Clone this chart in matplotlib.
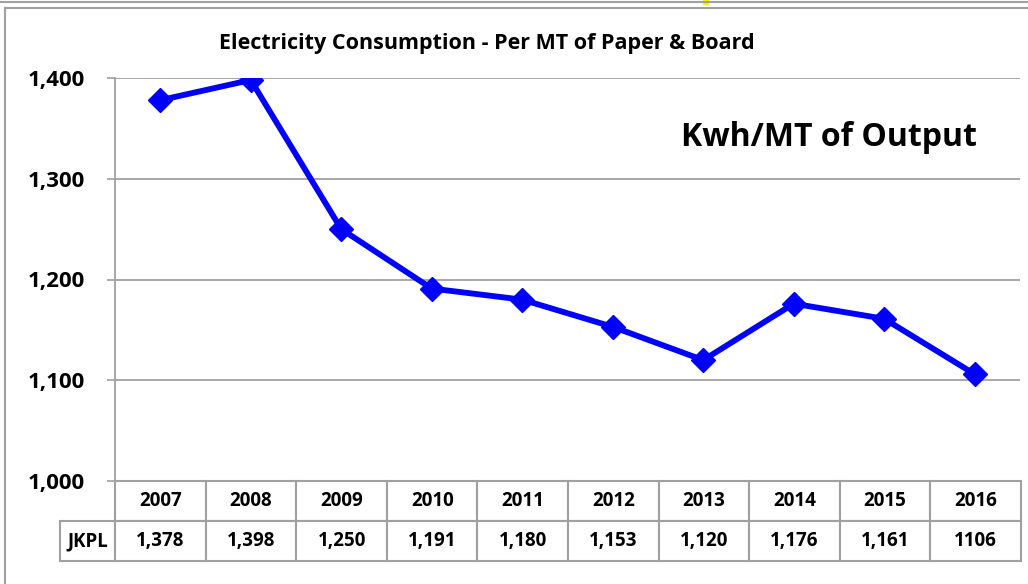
import matplotlib
matplotlib.use("Agg")
import matplotlib.pyplot as plt
from matplotlib.lines import Line2D
from matplotlib.patches import Rectangle

years = ["2007", "2008", "2009", "2010", "2011", "2012", "2013", "2014", "2015", "2016"]
jkpl = [1378, 1398, 1250, 1191, 1180, 1153, 1120, 1176, 1161, 1106]
# the last cell is written without a comma in the original
jkpl_text = ["1,378", "1,398", "1,250", "1,191", "1,180", "1,153", "1,120", "1,176", "1,161", "1106"]
yticks = [1000, 1100, 1200, 1300, 1400]

plt.rcParams['font.family'] = ['Open Sans', 'DejaVu Sans']
plt.rcParams['font.weight'] = 'bold'

W, H = 1028, 584
fig = plt.figure(figsize=(W / 100, H / 100), dpi=100)

# axes from pixel coords
x0, x1, ytop, ybot = 115, 1020, 78, 481
aw, ah = x1 - x0, ybot - ytop
ax = fig.add_axes([x0 / W, 1 - ybot / H, aw / W, ah / H])

grey = "#a0a0a0"
x = list(range(len(years)))
ax.plot(x, jkpl, color="#0000ff", lw=4.2, marker="D", markersize=12, zorder=3)
ax.set_xlim(-0.5, len(years) - 0.5)
ax.set_ylim(1000, 1400)
ax.set_yticks(yticks)
ax.set_yticklabels([f"{v:,}" for v in yticks], fontsize=16, fontweight="bold")
ax.tick_params(axis="y", length=6, width=1.2, color=grey, pad=16)
ax.set_xticks([])
ax.grid(axis="y", color=grey, lw=1.3)
for s in ["top", "right", "bottom"]:
    ax.spines[s].set_visible(False)
ax.spines["left"].set_color(grey)
ax.spines["left"].set_linewidth(1.3)
ax.axhline(1000, color=grey, lw=1.3)

# data table under the plot (bbox covers the year columns, the row label hangs left)
tbl = ax.table(cellText=[jkpl_text], colLabels=years, rowLabels=["JKPL"],
               colWidths=[0.1] * len(years),
               cellLoc="center", rowLoc="center",
               bbox=[0, -80 / ah, (1021 - x0) / aw, 80 / ah])
tbl._autoColumns = []
tbl.auto_set_font_size(False)
for (r, c), cell in tbl.get_celld().items():
    cell.set_edgecolor(grey)
    cell.set_linewidth(1.5)
    if c == -1:
        cell.set_width(55 / 906)
    cell.get_text().set_fontsize(13.5)
    cell.get_text().set_fontweight("bold")
    cell.get_text().set_ha("center")

fig.text(487 / W, 1 - 44 / H, "Electricity Consumption - Per MT of Paper & Board",
         ha="center", va="center", fontsize=15.5, fontweight="bold")
fig.text(829 / W, 1 - 137 / H, "Kwh/MT of Output", ha="center", va="center",
         fontsize=23, fontweight="bold")

# outer frame lines of the screenshot
fig.add_artist(Line2D([0, 1], [1 - 1.5 / H, 1 - 1.5 / H], color=grey, lw=1.5))
fig.add_artist(Line2D([5 / W, 1], [1 - 7.5 / H, 1 - 7.5 / H], color=grey, lw=1.5))
fig.add_artist(Line2D([5 / W, 5 / W], [0, 1 - 7.5 / H], color=grey, lw=1.5))
fig.add_artist(Rectangle((703 / W, 1 - 4 / H), 5 / W, 4 / H, color="#ffee00"))

fig.savefig("out.png", dpi=100)
